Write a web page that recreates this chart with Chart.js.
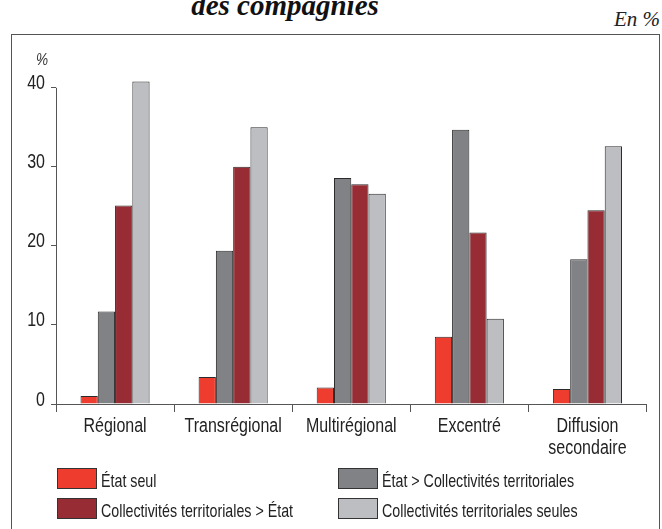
<!DOCTYPE html>
<html>
<head>
<meta charset="utf-8">
<script src="https://cdn.jsdelivr.net/npm/chart.js@4.4.0/dist/chart.umd.min.js"></script>
<style>
  html, body { margin: 0; padding: 0; background: #fff; }
  #wrap { position: relative; width: 662px; height: 529px; overflow: hidden; }
  #frame { position: absolute; left: 11px; top: 34px; width: 647px; height: 540px; border: 1.5px solid #555; }
  #chart { position: absolute; left: 0; top: 0; }
  #title { position: absolute; left: 0; width: 570px; top: -11px; text-align: center; line-height: 29px;
    font: bold italic 29px "Liberation Serif", "DejaVu Serif", serif; color: #111; white-space: nowrap; }
  #unit { position: absolute; right: 2px; top: 7px; line-height: 21px;
    font: italic 21px "Liberation Serif", "DejaVu Serif", serif; color: #222; }
  #legend { position: absolute; left: 57px; top: 468px; display: grid;
    grid-template-columns: 281px 281px; row-gap: 9px; }
  .item { display: flex; align-items: center; height: 21px; white-space: nowrap; }
  .box { box-sizing: border-box; width: 40px; height: 21px; border: 1px solid #333; flex: none; }
  .lbl { margin-left: 4px; position: relative; top: 2px; line-height: 21px;
    font: 19px "Liberation Sans", Arial, sans-serif; color: #222;
    display: inline-block; transform: scaleX(0.75); transform-origin: left center; }
</style>
</head>
<body>
<div id="wrap">
  <div id="title">des compagnies</div>
  <div id="unit">En %</div>
  <div id="frame"></div>
  <canvas id="chart" width="662" height="529"></canvas>
  <div id="legend"></div>
</div>
<script>
const categories = ['Régional', 'Transrégional', 'Multirégional', 'Excentré', ['Diffusion', 'secondaire']];
const seriesNames = ['État seul', 'État > Collectivités territoriales', 'Collectivités territoriales > État', 'Collectivités territoriales seules'];
const etatSeul = [1.0, 3.4, 2.1, 8.5, 1.9];
const etatSupCollectivites = [11.7, 19.4, 28.6, 34.7, 18.3];
const collectivitesSupEtat = [25.1, 30.0, 27.8, 21.7, 24.5];
const collectivitesSeules = [40.8, 35.0, 26.6, 10.8, 32.6];
const yTicks = [0, 10, 20, 30, 40];

const colors = ['#ee3d2f', '#808285', '#972c34', '#bcbec1'];
const sans = '"Liberation Sans", Arial, sans-serif';

// the original uses a condensed face: squeeze canvas text horizontally
const condensed = {
  id: 'condensed',
  beforeInit(chart) {
    const ctx = chart.ctx;
    const fill = ctx.fillText.bind(ctx);
    ctx.fillText = function (text, x, y) {
      ctx.save();
      ctx.translate(x, y);
      ctx.scale(0.8, 1);
      fill(text, 0, 0);
      ctx.restore();
    };
  }
};

// y axis line only runs up to the last tick, plus the little "%" above it
const axisExtras = {
  id: 'axisExtras',
  afterDraw(chart) {
    const { ctx, chartArea, scales: { y } } = chart;
    const x0 = Math.round(chartArea.left) + 0.5;
    const top = y.getPixelForValue(yTicks[yTicks.length - 1]);
    ctx.save();
    ctx.strokeStyle = '#555';
    ctx.lineWidth = 1;
    ctx.beginPath();
    ctx.moveTo(x0, top);
    ctx.lineTo(x0, y.getPixelForValue(0));
    ctx.stroke();
    ctx.font = 'italic 17px ' + sans;
    ctx.fillStyle = '#333';
    ctx.textAlign = 'center';
    ctx.textBaseline = 'alphabetic';
    ctx.fillText('%', chartArea.left - 14, top - 23);
    ctx.restore();
  }
};

const data = {
  labels: categories,
  datasets: [etatSeul, etatSupCollectivites, collectivitesSupEtat, collectivitesSeules].map((vals, i) => ({
    label: seriesNames[i],
    data: vals,
    backgroundColor: colors[i],
    borderColor: '#2b2b2b',
    borderWidth: 1,
    categoryPercentage: 0.585,
    barPercentage: 1
  }))
};

const chart = new Chart(document.getElementById('chart'), {
  type: 'bar',
  data: data,
  plugins: [condensed, axisExtras],
  options: {
    responsive: false,
    animation: false,
    layout: { padding: { top: 72, right: 15.5, left: 0, bottom: 0 } },
    plugins: {
      legend: { display: false },
      tooltip: { enabled: false }
    },
    scales: {
      x: {
        grid: { drawOnChartArea: false, tickLength: 8, color: '#555', offset: true },
        border: { display: true, color: '#555', width: 1 },
        ticks: { color: '#222', font: { family: sans, size: 20, lineHeight: 1.1 }, padding: 3,
          maxRotation: 0, autoSkip: false },
        afterFit(scale) { scale.height = 125; }
      },
      y: {
        min: 0,
        max: 42,
        afterBuildTicks(scale) { scale.ticks = yTicks.map(v => ({ value: v })); },
        grid: { drawOnChartArea: false, tickLength: 5, color: '#555' },
        border: { display: false },
        ticks: { color: '#222', font: { family: sans, size: 20 }, padding: 6, labelOffset: -4 },
        afterFit(scale) { scale.width = 56; }
      }
    }
  }
});

// two-column legend built from the chart's datasets
const legend = document.getElementById('legend');
chart.data.datasets.forEach(ds => {
  const item = document.createElement('div');
  item.className = 'item';
  const box = document.createElement('span');
  box.className = 'box';
  box.style.background = ds.backgroundColor;
  const lbl = document.createElement('span');
  lbl.className = 'lbl';
  lbl.textContent = ds.label;
  item.appendChild(box);
  item.appendChild(lbl);
  legend.appendChild(item);
});
</script>
</body>
</html>
